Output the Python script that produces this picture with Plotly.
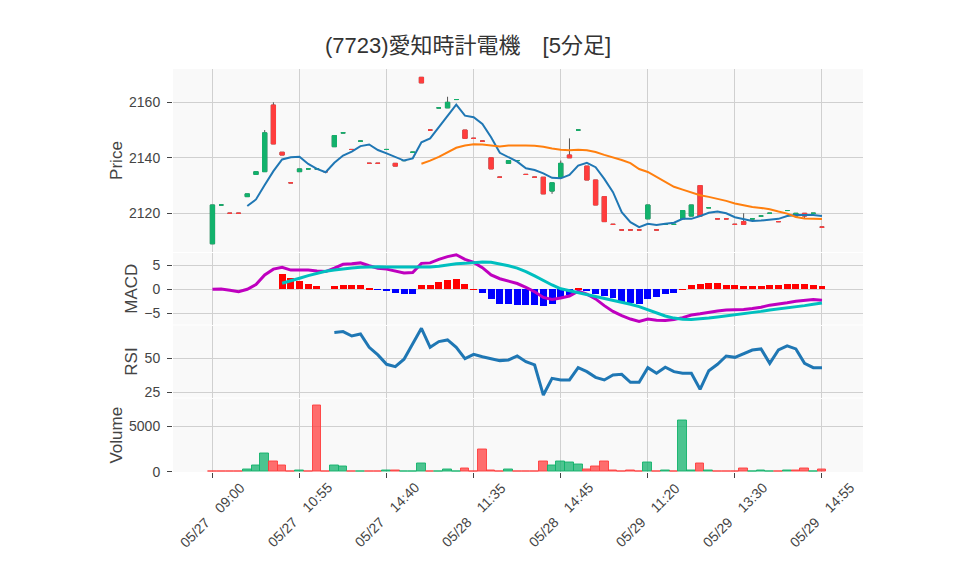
import plotly.graph_objects as go
from plotly.subplots import make_subplots

title_text = "(7723)愛知時計電機\u3000[5分足]"

tick_labels = ["05/27 09:00", "05/27 10:55", "05/27 14:40", "05/28 11:35",
               "05/28 14:45", "05/29 11:20", "05/29 13:30", "05/29 14:55"]

opens = [2109, 2123, 2120, 2120, 2126, 2134, 2135, 2159, 2142, 2131,
         2135, 2136, 2136, 2135, 2144, 2149, 2143, 2146, 2138, 2138,
         2143, 2138, 2139, 2142, 2169, 2150, 2158, 2158, 2161, 2150,
         2147, 2146, 2140, 2133, 2138, 2139, 2134, 2133, 2133, 2128,
         2133, 2141, 2150, 2137, 2132, 2126, 2116, 2114, 2114, 2114,
         2118, 2114, 2116, 2116, 2118, 2119, 2130, 2122, 2118, 2118,
         2116, 2117, 2118, 2119, 2120, 2117, 2121, 2119, 2120, 2120,
         2115]
highs = [2123, 2123, 2120, 2120, 2127, 2135, 2150, 2160, 2142, 2131,
         2136, 2136, 2136, 2135, 2148, 2149, 2143, 2146, 2138, 2138,
         2143, 2138, 2139, 2142, 2169, 2150, 2158, 2162, 2161, 2150,
         2147, 2146, 2140, 2133, 2139, 2139, 2134, 2133, 2133, 2131,
         2139, 2147, 2150, 2137, 2132, 2126, 2116, 2114, 2114, 2114,
         2123, 2114, 2116, 2116, 2121, 2123, 2130, 2122, 2118, 2118,
         2116, 2120, 2118, 2119, 2120, 2117, 2121, 2120, 2120, 2120,
         2115]
lows = [2109, 2123, 2120, 2120, 2126, 2134, 2135, 2145, 2141, 2131,
        2135, 2136, 2136, 2135, 2144, 2149, 2143, 2146, 2138, 2138,
        2143, 2137, 2139, 2142, 2167, 2150, 2158, 2158, 2161, 2147,
        2147, 2146, 2136, 2133, 2138, 2139, 2134, 2133, 2127, 2127,
        2133, 2140, 2150, 2132, 2123, 2117, 2116, 2114, 2114, 2114,
        2118, 2114, 2116, 2116, 2118, 2119, 2119, 2122, 2118, 2118,
        2116, 2116, 2118, 2119, 2120, 2117, 2121, 2119, 2118, 2120,
        2115]
closes = [2123, 2123, 2120, 2120, 2127, 2135, 2149, 2145, 2141, 2131,
          2136, 2136, 2136, 2135, 2148, 2149, 2143, 2146, 2138, 2138,
          2143, 2137, 2139, 2142, 2167, 2150, 2158, 2160, 2161, 2147,
          2147, 2146, 2136, 2133, 2139, 2139, 2134, 2133, 2127, 2131,
          2138, 2140, 2150, 2132, 2123, 2117, 2116, 2114, 2114, 2114,
          2123, 2114, 2116, 2116, 2121, 2123, 2119, 2122, 2118, 2118,
          2116, 2116, 2118, 2119, 2120, 2117, 2121, 2120, 2119, 2120,
          2115]

ma5 = [None, None, None, None,
       2122.6, 2125.0, 2130.2, 2135.2, 2139.4, 2140.2, 2140.4, 2137.8, 2136.0, 2134.8,
       2138.2, 2140.8, 2142.2, 2144.2, 2144.8, 2142.8, 2141.6, 2140.4, 2139.0, 2139.8,
       2145.6, 2147.0, 2151.2, 2155.4, 2159.2, 2155.2, 2154.6, 2152.2, 2147.4, 2141.8,
       2140.2, 2138.6, 2136.2, 2135.6, 2134.4, 2132.8, 2132.6, 2133.8, 2137.2, 2138.2,
       2136.6, 2132.4, 2127.6, 2120.4, 2116.8, 2115.0, 2116.2, 2115.8, 2116.2, 2116.6,
       2118.0, 2118.0, 2119.0, 2120.2, 2120.6, 2120.0, 2118.6, 2118.0, 2117.2, 2117.4,
       2117.8, 2118.0, 2119.0, 2119.4, 2119.4, 2119.4, 2119.0]

ma25 = [None] * 24 + [
    2137.88, 2138.96, 2140.36, 2141.96, 2143.60, 2144.40, 2144.88, 2144.76, 2144.40, 2144.08,
    2144.40, 2144.52, 2144.44, 2144.32, 2144.00, 2143.32, 2142.88, 2142.76, 2142.92, 2142.68,
    2142.08, 2141.04, 2140.20, 2139.20, 2138.08, 2135.96, 2134.88, 2133.12, 2131.36, 2129.56,
    2128.52, 2127.56, 2126.48, 2125.92, 2125.32, 2124.48, 2123.56, 2122.84, 2122.24, 2121.92,
    2121.48, 2120.64, 2119.88, 2118.68, 2118.16, 2118.04, 2117.96]

macd = [0.0, 0.05, -0.2, -0.5, 0.0, 1.0, 3.0, 4.2, 4.6, 4.0,
        4.0, 4.0, 3.8, 3.7, 4.4, 5.2, 5.3, 5.5, 4.9, 4.4,
        4.2, 3.75, 3.4, 3.5, 5.4, 5.5, 6.25, 6.8, 7.2, 6.25,
        5.6, 4.5, 3.0, 2.2, 1.7, 1.2, 0.4, -0.5, -1.7, -2.1,
        -1.8, -1.4, -0.4, -1.0, -2.0, -3.4, -4.6, -5.5, -6.2, -6.7,
        -6.2, -6.45, -6.5, -6.3, -5.9, -5.35, -5.1, -4.75, -4.5, -4.3,
        -4.3, -4.2, -4.0, -3.75, -3.3, -3.1, -2.8, -2.5, -2.3, -2.15,
        -2.3]
signal = [None] * 8 + [
    1.25, 1.7, 2.3, 2.85, 3.3, 3.75, 4.0, 4.3, 4.45, 4.6,
    4.7, 4.7, 4.65, 4.65, 4.6, 4.5, 4.6, 4.65, 4.8, 5.1,
    5.3, 5.4, 5.55, 5.7, 5.65, 5.3, 4.9, 4.4, 3.7, 2.8,
    1.8, 0.9, 0.1, -0.3, -0.65, -1.0, -1.4, -1.9, -2.2, -2.6,
    -3.1, -3.6, -4.3, -5.0, -5.55, -6.0, -6.25, -6.3, -6.2, -6.0,
    -5.75, -5.55, -5.35, -5.15, -4.85, -4.6, -4.3, -4.1, -3.8, -3.6,
    -3.4, -3.1, -2.85]
hist = [None] * 8 + [
    3.2, 2.3, 1.7, 1.2, 0.6, 0.0, 0.6, 1.0, 0.9, 0.9,
    0.3, -0.1, -0.3, -0.7, -1.05, -0.9, 0.85, 0.9, 1.5, 1.9,
    2.1, 1.1, 0.05, -0.8, -2.1, -3.1, -3.1, -3.25, -3.35, -3.35,
    -3.4, -3.0, -1.6, -1.1, 0.25, -0.2, -1.0, -1.3, -1.8, -2.9,
    -2.9, -3.1, -2.1, -1.7, -1.05, -0.7, 0.05, 0.9, 1.05, 1.3,
    1.25, 1.0, 0.8, 0.7, 0.7, 0.7, 0.8, 0.85, 1.05, 1.05,
    1.05, 0.85, 0.7]

rsi = [None] * 14 + [
    68.9, 69.6, 66.4, 67.9, 58.1, 52.5, 45.6, 43.9, 49.3, 61.0,
    72.0, 58.1, 62.3, 63.5, 58.1, 49.8, 52.9, 51.2, 50.0, 48.3,
    48.8, 51.7, 47.5, 45.1, 23.0, 35.3, 34.1, 34.1, 43.1, 40.2,
    36.0, 34.1, 37.7, 38.2, 32.4, 32.4, 43.1, 39.0, 43.4, 40.2,
    39.0, 39.0, 27.2, 40.9, 45.6, 51.7, 50.7, 53.7, 56.1, 56.9,
    46.3, 56.1, 59.1, 56.9, 46.3, 43.1, 43.1]

volume = [0, 70, 70, 70, 255, 690, 2040, 1170, 690, 70,
          180, 30, 7260, 70, 690, 580, 70, 70, 70, 70,
          180, 180, 70, 70, 950, 70, 70, 255, 70, 400,
          60, 2445, 150, 70, 290, 70, 70, 70, 1170, 690,
          1170, 1060, 840, 290, 580, 1170, 180, 70, 180, 70,
          1060, 70, 180, 50, 5550, 180, 950, 180, 70, 70,
          70, 400, 70, 180, 70, 70, 180, 180, 400, 70,
          290]

n = len(closes)
idx = list(range(n))
tickvals = idx[::10]

GREEN = "#12b26c"
RED = "#ff3d3d"
FONT = "Liberation Sans, Noto Sans CJK JP, sans-serif"

W, HGT = 942, 559
fig = make_subplots(rows=4, cols=1, shared_xaxes=True, vertical_spacing=0.003,
                    row_heights=[0.455, 0.18, 0.18, 0.185])

# wicks (grey) layer
fig.add_trace(go.Candlestick(
    x=idx, open=opens, high=highs, low=lows, close=closes,
    increasing=dict(line=dict(color="#555555", width=1), fillcolor="rgba(0,0,0,0)"),
    decreasing=dict(line=dict(color="#555555", width=1), fillcolor="rgba(0,0,0,0)"),
    whiskerwidth=0, showlegend=False, hoverinfo="skip"), row=1, col=1)

body_hi = [max(o, c) for o, c in zip(opens, closes)]
body_lo = [min(o, c) for o, c in zip(opens, closes)]
fig.add_trace(go.Candlestick(
    x=idx, open=opens, high=body_hi, low=body_lo, close=closes,
    increasing=dict(line=dict(color=GREEN, width=1), fillcolor=GREEN),
    decreasing=dict(line=dict(color=RED, width=1), fillcolor=RED),
    whiskerwidth=0, showlegend=False, name="Price"), row=1, col=1)

fig.add_trace(go.Scatter(x=idx, y=ma5, mode="lines", line=dict(color="#1f77b4", width=2),
                         showlegend=False, name="MA5"), row=1, col=1)
fig.add_trace(go.Scatter(x=idx, y=ma25, mode="lines", line=dict(color="#ff7f0e", width=2),
                         showlegend=False, name="MA25"), row=1, col=1)

hist_colors = ["#ff0000" if (h is not None and h >= 0) else "#0000ff" for h in hist]
fig.add_trace(go.Bar(x=idx, y=hist, marker=dict(color=hist_colors, line=dict(width=0)),
                     width=0.8, showlegend=False, name="Hist"), row=2, col=1)
fig.add_trace(go.Scatter(x=idx, y=macd, mode="lines", line=dict(color="#bf00bf", width=3),
                         showlegend=False, name="MACD"), row=2, col=1)
fig.add_trace(go.Scatter(x=idx, y=signal, mode="lines", line=dict(color="#00bfbf", width=3),
                         showlegend=False, name="Signal"), row=2, col=1)

fig.add_trace(go.Scatter(x=idx, y=rsi, mode="lines", line=dict(color="#1f77b4", width=3),
                         showlegend=False, name="RSI"), row=3, col=1)

vol_fill = []
vol_line = []
for i in range(n):
    up = i > 0 and closes[i] > closes[i - 1]
    vol_fill.append("rgba(18,178,108,0.75)" if up else "rgba(255,61,61,0.75)")
    vol_line.append("rgba(18,178,108,0.9)" if up else "rgba(255,61,61,0.9)")
fig.add_trace(go.Bar(x=idx, y=volume, marker=dict(color=vol_fill, line=dict(color=vol_line, width=1)),
                     width=1.0, showlegend=False, name="Volume"), row=4, col=1)

# page coords (screenshot) -> figure coords: body margin of 8px
OFF = 8
PLOT_TOP, PLOT_BOT = 69 - OFF, 472 - OFF
PLOT_L, PLOT_R = 173 - OFF, 863 - OFF
PH = float(PLOT_BOT - PLOT_TOP)


def dom(top_px, bot_px):
    return [(472 - bot_px) / PH, (472 - top_px) / PH]


axis_common = dict(showgrid=True, gridcolor="#d0d0d0", gridwidth=1, zeroline=False,
                   showline=False, ticks="outside", ticklen=5, tickcolor="#444",
                   tickfont=dict(size=14, color="#444"))

fig.update_layout(
    width=W, height=HGT,
    margin=dict(l=PLOT_L, r=W - PLOT_R, t=PLOT_TOP, b=HGT - PLOT_BOT),
    paper_bgcolor="white", plot_bgcolor="#f9f9f9",
    font=dict(family=FONT, size=14, color="#444"),
    showlegend=False,
    title=dict(text=title_text, x=(325 - OFF) / W, xanchor="left", xref="container",
               y=1 - (45 - OFF) / HGT, yanchor="middle", yref="container",
               font=dict(size=22, color="#333", family=FONT)),
    bargap=0.0,
)

for r in range(1, 5):
    fig.update_xaxes(row=r, col=1, range=[-4.53, 74.71], tickmode="array",
                     tickvals=tickvals, ticktext=tick_labels, rangeslider=dict(visible=False),
                     showticklabels=False, **axis_common)
for r in range(1, 4):
    fig.update_xaxes(row=r, col=1, ticks="")

# rotated x tick labels, centred on their ticks
label_y = (PLOT_BOT - (515 - OFF)) / PH
for v, lab in zip(tickvals, tick_labels):
    fig.add_annotation(x=v, xref="x4", y=label_y, yref="paper", text=lab.replace(" ", "\u2003"),
                       textangle=-45, showarrow=False, xanchor="center", yanchor="middle",
                       font=dict(size=14, color="#444", family=FONT))

ytitle = dict(standoff=2)
ycommon = dict(automargin=True, ticklabelstandoff=4, **axis_common)
fig.update_yaxes(row=1, col=1, domain=dom(69, 252), range=[2106.05, 2172.0], dtick=20,
                 title=dict(text="Price", **ytitle), **ycommon)
fig.update_yaxes(row=2, col=1, domain=dom(253, 324.5), range=[-7.33, 7.56], dtick=5,
                 title=dict(text="MACD", **ytitle), **ycommon)
fig.update_yaxes(row=3, col=1, domain=dom(325.5, 397.5), range=[21.2, 74.1], dtick=25,
                 title=dict(text="RSI", **ytitle), **ycommon)
fig.update_yaxes(row=4, col=1, domain=dom(398.5, 472), range=[-30, 8010], tickvals=[0, 5000],
                 title=dict(text="Volume", **ytitle), **ycommon)

fig.write_html("out.html")
